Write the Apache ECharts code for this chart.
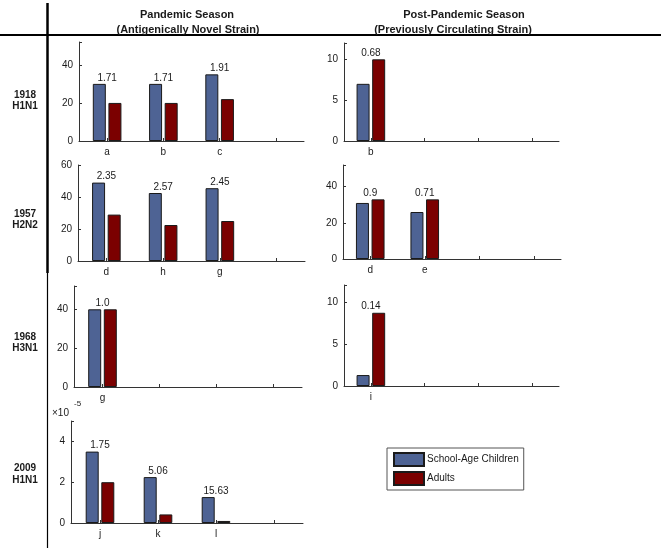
<!DOCTYPE html>
<html><head><meta charset="utf-8">
<script src="https://cdn.jsdelivr.net/npm/echarts@6/dist/echarts.min.js"></script>
<style>html,body{margin:0;padding:0;background:#fff}#c{width:661px;height:548px}</style>
</head><body><div id="c"></div><script>
// ---- data ----
const seriesNames = ['School-Age Children', 'Adults'];

const cats1918P = ['a', 'b', 'c', ' '];
const child1918P = [30, 30, 35];
const adult1918P = [20, 20, 22];
const ratio1918P = ['1.71', '1.71', '1.91'];

const cats1918PP = ['b', ' ', '  ', '   '];
const child1918PP = [7];
const adult1918PP = [10];
const ratio1918PP = ['0.68'];

const cats1957P = ['d', 'h', 'g', ' '];
const child1957P = [49, 42.5, 45.5];
const adult1957P = [29, 22.5, 25];
const ratio1957P = ['2.35', '2.57', '2.45'];

const cats1957PP = ['d', 'e', ' ', '  '];
const child1957PP = [31, 26];
const adult1957PP = [33, 33];
const ratio1957PP = ['0.9', '0.71'];

const cats1968P = ['g', ' ', '  ', '   '];
const child1968P = [40];
const adult1968P = [40];
const ratio1968P = ['1.0'];

const cats1968PP = ['i', ' ', '  ', '   '];
const child1968PP = [1.3];
const adult1968PP = [8.7];
const ratio1968PP = ['0.14'];

const cats2009P = ['j', 'k', 'l', ' '];
const child2009P = [3.5, 2.25, 1.27];
const adult2009P = [2.0, 0.42, 0.1];
const ratio2009P = ['1.75', '5.06', '15.63'];

const yMaxes = [52, 12, 60, 52, 52, 12, 5];
const ySteps = [20, 5, 20, 20, 20, 5, 2];

// ---- layout ----
const panels = [
  { cats: cats1918P, child: child1918P, adult: adult1918P, ratio: ratio1918P, grid: { left: 79, top: 42, width: 225, height: 99 } },
  { cats: cats1918PP, child: child1918PP, adult: adult1918PP, ratio: ratio1918PP, grid: { left: 344, top: 43, width: 215, height: 98 } },
  { cats: cats1957P, child: child1957P, adult: adult1957P, ratio: ratio1957P, grid: { left: 78, top: 165, width: 227, height: 96 } },
  { cats: cats1957PP, child: child1957PP, adult: adult1957PP, ratio: ratio1957PP, grid: { left: 343, top: 165, width: 218, height: 94 } },
  { cats: cats1968P, child: child1968P, adult: adult1968P, ratio: ratio1968P, grid: { left: 74, top: 286, width: 228, height: 101 } },
  { cats: cats1968PP, child: child1968PP, adult: adult1968PP, ratio: ratio1968PP, grid: { left: 344, top: 285, width: 215, height: 101 } },
  { cats: cats2009P, child: child2009P, adult: adult2009P, ratio: ratio2009P, grid: { left: 71, top: 421, width: 232, height: 102 } }
];

const FONT = '"Liberation Sans", Arial, Helvetica, sans-serif';
const TXT = '#1a1a1a';
const AX = '#333';
const BLUE = '#4e6394';
const RED = '#7b0000';

const grids = [], xAxes = [], yAxes = [], series = [];
panels.forEach((p, i) => {
  grids.push(Object.assign({ containLabel: false, outerBoundsMode: 'none' }, p.grid));
  xAxes.push({
    type: 'category', gridIndex: i, data: p.cats,
    axisLine: { lineStyle: { color: AX, width: 1 } },
    axisTick: { show: true, inside: true, alignWithLabel: true, length: 3, lineStyle: { color: AX } },
    axisLabel: { color: TXT, fontSize: 10, fontFamily: FONT, margin: 6, interval: 0 },
    splitLine: { show: false }
  });
  const step = ySteps[i];
  yAxes.push({
    type: 'value', gridIndex: i, min: 0, max: yMaxes[i], interval: step,
    axisLine: { show: true, lineStyle: { color: AX, width: 1 } },
    axisTick: { show: true, inside: true, length: 3, lineStyle: { color: AX } },
    axisLabel: { color: TXT, fontSize: 10, fontFamily: FONT, margin: 6,
      formatter: v => (Math.abs(v / step - Math.round(v / step)) < 1e-9 ? String(v) : '') },
    splitLine: { show: false }
  });
  series.push({
    type: 'bar', name: seriesNames[0], xAxisIndex: i, yAxisIndex: i, data: p.child,
    barWidth: 13, barGap: '20%',
    itemStyle: { color: BLUE, borderColor: '#1a1a1a', borderWidth: 1 }
  });
  series.push({
    type: 'bar', name: seriesNames[1], xAxisIndex: i, yAxisIndex: i, data: p.adult,
    barWidth: 13, barGap: '20%',
    itemStyle: { color: RED, borderColor: '#1a1a1a', borderWidth: 1 }
  });
  const ratio = p.ratio;
  series.push({
    type: 'scatter', name: 'ratio' + i, xAxisIndex: i, yAxisIndex: i,
    data: ratio.map((r, k) => [k, Math.max(p.child[k], p.adult[k])]),
    symbol: 'circle', symbolSize: 0.1, itemStyle: { color: 'rgba(0,0,0,0)', opacity: 1 },
    label: { show: true, position: 'top', distance: 1, color: TXT, fontSize: 10, fontFamily: FONT,
      formatter: q => ratio[q.dataIndex] },
    z: 5
  });
});

function txt(text, x, y, size, bold, align) {
  return {
    type: 'text', silent: true, z: 10,
    style: {
      text: text, x: x, y: y, fill: TXT,
      font: (bold ? 'bold ' : '') + size + 'px ' + FONT,
      align: align || 'center', verticalAlign: 'middle',
      textAlign: align || 'center', textVerticalAlign: 'middle'
    }
  };
}
function line(x1, y1, x2, y2, w) {
  return { type: 'line', silent: true, z: 10, shape: { x1, y1, x2, y2 }, style: { stroke: '#000', lineWidth: w } };
}

const graphics = [
  line(0, 35, 661, 35, 2),
  line(47.5, 3, 47.5, 273, 2.5),
  line(47.5, 273, 47.5, 548, 1.2),
  txt('Pandemic Season', 187, 15, 11, true),
  txt('(Antigenically Novel Strain)', 188, 30, 11, true),
  txt('Post-Pandemic Season', 464, 15, 11, true),
  txt('(Previously Circulating Strain)', 453, 30, 11, true),
  txt('1918', 25, 95, 10, true), txt('H1N1', 25, 106, 10, true),
  txt('1957', 25, 214, 10, true), txt('H2N2', 25, 225, 10, true),
  txt('1968', 25, 337, 10, true), txt('H3N1', 25, 348, 10, true),
  txt('2009', 25, 468, 10, true), txt('H1N1', 25, 480, 10, true),
  txt('\u00d710', 52, 413, 10, false, 'left'),
  txt('-5', 74, 404, 8, false, 'left')
];

const chart = echarts.init(document.getElementById('c'), null, { renderer: 'canvas' });
chart.setOption({
  animation: false,
  backgroundColor: '#fff',
  textStyle: { fontFamily: FONT },
  grid: grids, xAxis: xAxes, yAxis: yAxes, series: series,
  legend: {
    data: seriesNames, orient: 'vertical', left: 387, top: 448,
    icon: 'rect',
    itemWidth: 30, itemHeight: 13, itemGap: 4, padding: [4, 5, 4, 6],
    borderColor: '#555', borderWidth: 1, backgroundColor: '#fff',
    selectedMode: false,
    textStyle: { color: TXT, fontSize: 10, fontFamily: FONT, padding: [0, 0, 0, -2] }
  },
  graphic: graphics
});
</script></body></html>
